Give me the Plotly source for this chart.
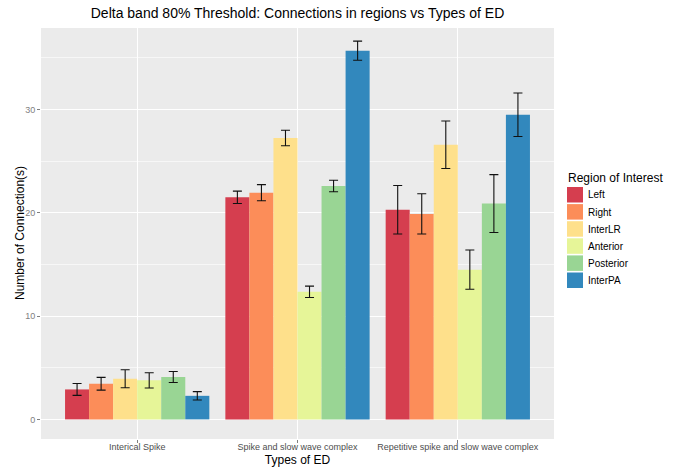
import plotly.graph_objects as go

# Types of epileptiform discharge (x categories)
ed_types = ["Interical Spike", "Spike and slow wave complex", "Repetitive spike and slow wave complex"]

# Regions of interest and their colours (Spectral palette)
regions = ["Left", "Right", "InterLR", "Anterior", "Posterior", "InterPA"]
colors = ["#D53E4F", "#FC8D59", "#FEE08B", "#E6F598", "#99D594", "#3288BD"]

# Mean number of connections per region for each ED type
left = [2.9, 21.5, 20.3]
right = [3.45, 21.95, 19.9]
interlr = [3.93, 27.25, 26.6]
anterior = [3.78, 12.35, 14.5]
posterior = [4.1, 22.6, 20.9]
interpa = [2.28, 35.7, 29.5]

# Standard error for each bar
left_err = [0.58, 0.6, 2.35]
right_err = [0.62, 0.78, 1.95]
interlr_err = [0.87, 0.75, 2.3]
anterior_err = [0.74, 0.55, 1.9]
posterior_err = [0.53, 0.55, 2.8]
interpa_err = [0.41, 0.93, 2.1]

means = [left, right, interlr, anterior, posterior, interpa]
errors = [left_err, right_err, interlr_err, anterior_err, posterior_err, interpa_err]

FONT = "Liberation Sans, Arial, sans-serif"

fig = go.Figure()
for name, col, y, e in zip(regions, colors, means, errors):
    fig.add_trace(go.Bar(
        x=ed_types, y=y, name=name,
        marker=dict(color=col, line=dict(width=0)),
        error_y=dict(type="data", array=e, visible=True,
                     color="#111111", thickness=1.1, width=4.5),
        showlegend=False,
    ))

# Plot-area geometry in pixels (for the hand-built legend)
W, H = 673, 468
ml, mr, mt, mb = 41, 119, 28, 29
pw, ph = W - ml - mr, H - mt - mb


def px_x(x):
    return (x - ml) / pw


def px_y(y):
    return (H - mb - y) / ph


shapes = []
annotations = []

# y-axis title, placed as a rotated label
annotations.append(dict(
    text="Number of Connection(s)", xref="paper", yref="paper",
    x=px_x(19.5), y=0.5, xanchor="center", yanchor="middle", textangle=-90,
    showarrow=False, font=dict(family=FONT, size=12, color="#000000"),
))

annotations.append(dict(
    text="Region of Interest", xref="paper", yref="paper",
    x=px_x(566), y=px_y(178), xanchor="left", yanchor="middle",
    showarrow=False, font=dict(family=FONT, size=12, color="#000000"),
))
for i, (name, col) in enumerate(zip(regions, colors)):
    top = 187 + i * 17.1
    shapes.append(dict(
        type="rect", xref="paper", yref="paper",
        x0=px_x(567), x1=px_x(583), y0=px_y(top + 15.5), y1=px_y(top),
        fillcolor=col, line=dict(width=0), layer="above",
    ))
    annotations.append(dict(
        text=name, xref="paper", yref="paper",
        x=px_x(586), y=px_y(top + 8), xanchor="left", yanchor="middle",
        showarrow=False, font=dict(family=FONT, size=10, color="#000000"),
    ))

fig.update_layout(
    width=W, height=H,
    margin=dict(l=ml, r=mr, t=mt, b=mb, pad=0, autoexpand=False),
    barmode="group", bargap=0.1, bargroupgap=0,
    paper_bgcolor="#FFFFFF", plot_bgcolor="#EBEBEB",
    font=dict(family=FONT, color="#000000"),
    title=dict(text="Delta band 80% Threshold: Connections in regions vs Types of ED",
               x=(ml + pw / 2) / W, xanchor="center", y=1 - 13 / H, yanchor="middle",
               font=dict(family=FONT, size=14, color="#000000")),
    xaxis=dict(
        title=dict(text="Types of ED", font=dict(family=FONT, size=12), standoff=4),
        automargin=False,
        range=[-0.6, 2.6], showgrid=True, gridcolor="#FFFFFF", gridwidth=1.1,
        ticks="outside", ticklen=3, tickcolor="#7F7F7F", tickwidth=1,
        ticklabelstandoff=-4,
        tickfont=dict(family=FONT, size=9, color="#4D4D4D"), zeroline=False,
        showline=False,
    ),
    yaxis=dict(
        automargin=False,
        range=[-1.9, 37.9], tickvals=[0, 10, 20, 30],
        showgrid=True, gridcolor="#FFFFFF", gridwidth=1.1,
        minor=dict(tickvals=[5, 15, 25, 35], showgrid=True, gridcolor="#F7F7F7",
                   gridwidth=0.6, ticks=""),
        ticks="outside", ticklen=3, tickcolor="#7F7F7F", tickwidth=1,
        tickfont=dict(family=FONT, size=9, color="#7F7F7F"), zeroline=False,
        showline=False,
    ),
    shapes=shapes,
    annotations=annotations,
)

fig.write_html("out.html")
